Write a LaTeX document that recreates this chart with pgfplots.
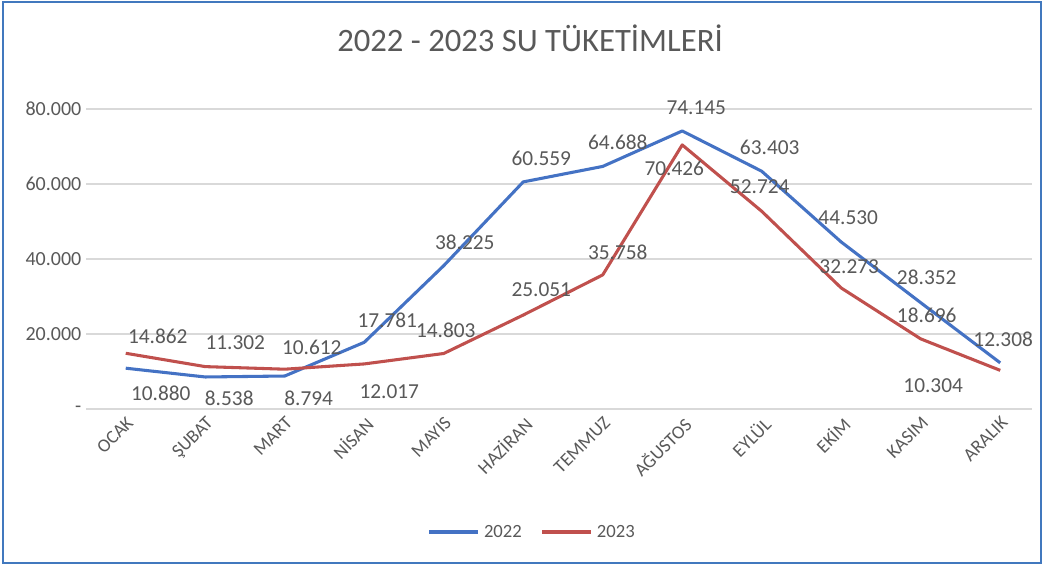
\documentclass[border=0pt]{standalone}
\usepackage{fontspec}
\setmainfont{Carlito}
\usepackage{pgfplots}
\usepackage{pgfplotstable}
\pgfplotsset{compat=1.18}

\definecolor{bl}{RGB}{68,114,196}
\definecolor{rd}{RGB}{192,80,77}
\definecolor{txt}{RGB}{89,89,89}
\definecolor{grd}{RGB}{217,217,217}
\definecolor{frame}{RGB}{65,120,190}

\pgfplotstableread{
x y
0 10880
1 8538
2 8794
3 17781
4 38225
5 60559
6 64688
7 74145
8 63403
9 44530
10 28352
11 12308
}\yilA

\pgfplotstableread{
x y
0 14862
1 11302
2 10612
3 12017
4 14803
5 25051
6 35758
7 70426
8 52724
9 32273
10 18696
11 10304
}\yilB

% label offsets in px (right, up), one per month
\def\dxA{{35,24,24,23,21,18,15,14,8,7,6,3}}
\def\dyA{{-25,-21,-22,22,23,24,24,23,24,24,25,24}}
\def\dxB{{32,30,27,25,2,18,15,-8,-2,8,6,-67}}
\def\dyB{{17,24,22,-28,23,25,23,-23,25,21,24,-15}}

\pgfplotsset{
  etiket/.style 2 args={
    nodes near coords={\pgfmathprintnumber[fixed, precision=0, 1000 sep={.}]{\pgfplotspointmeta}},
    visualization depends on={value \coordindex \as \idx},
    nodes near coords style={anchor=center,
        xshift={#1[\idx]*0.75pt}, yshift={#2[\idx]*0.75pt},
        font=\fontsize{16}{19}\selectfont, text=txt},
  }
}

\begin{document}
\begin{tikzpicture}
\useasboundingbox (0,0) rectangle (783.75pt,425.25pt);
\fill[white] (0,0) rectangle (783.75pt,425.25pt);
\draw[frame, line width=1.9pt] (2.25pt,3pt) rectangle (780.75pt,423.75pt);
\node[txt, font=\fontsize{24.5}{28}\selectfont] at (397.5pt,396.75pt) {2022 - 2023 SU TÜKETİMLERİ};
\begin{axis}[
    at={(64.5pt,118.5pt)}, anchor=south west,
    scale only axis,
    width=709.5pt, height=225pt,
    xmin=-0.5, xmax=11.4,
    ymin=0, ymax=80000,
    scaled y ticks=false,
    clip=false,
    axis line style={draw=none},
    tick style={draw=none},
    ymajorgrids,
    grid style={grd, line width=0.8pt},
    xtick={0,...,11},
    xticklabels={OCAK, ŞUBAT, MART, NİSAN, MAYIS, HAZİRAN, TEMMUZ, AĞUSTOS, EYLÜL, EKİM, KASIM, ARALIK},
    xticklabel style={rotate=45, anchor=north east, font=\fontsize{14}{16}\selectfont, text=txt},
    ytick={0,20000,40000,60000,80000},
    yticklabels={-, 20.000, 40.000, 60.000, 80.000},
    yticklabel style={font=\fontsize{15}{18}\selectfont, text=txt},
    /pgf/number format/assume math mode=true,
    legend style={at={(0.472,-0.41)}, anchor=center, draw=none, legend columns=2,
        font=\fontsize{14}{16}\selectfont, text=txt,
        /tikz/every odd column/.append style={column sep=1pt},
        /tikz/every even column/.append style={column sep=12pt}},
    legend image code/.code={\draw[#1] (0pt,0pt) -- (37pt,0pt);},
    legend cell align=left,
]
\addplot[bl, line width=2.3pt, mark=none, line join=round, forget plot, etiket={\dxA}{\dyA}] table[x=x,y=y] {\yilA};
\addplot[rd, line width=2.3pt, mark=none, line join=round, forget plot, etiket={\dxB}{\dyB}] table[x=x,y=y] {\yilB};
\addlegendimage{bl, line width=2.3pt}
\addlegendentry{2022}
\addlegendimage{rd, line width=2.3pt}
\addlegendentry{2023}
\end{axis}
\end{tikzpicture}
\end{document}
